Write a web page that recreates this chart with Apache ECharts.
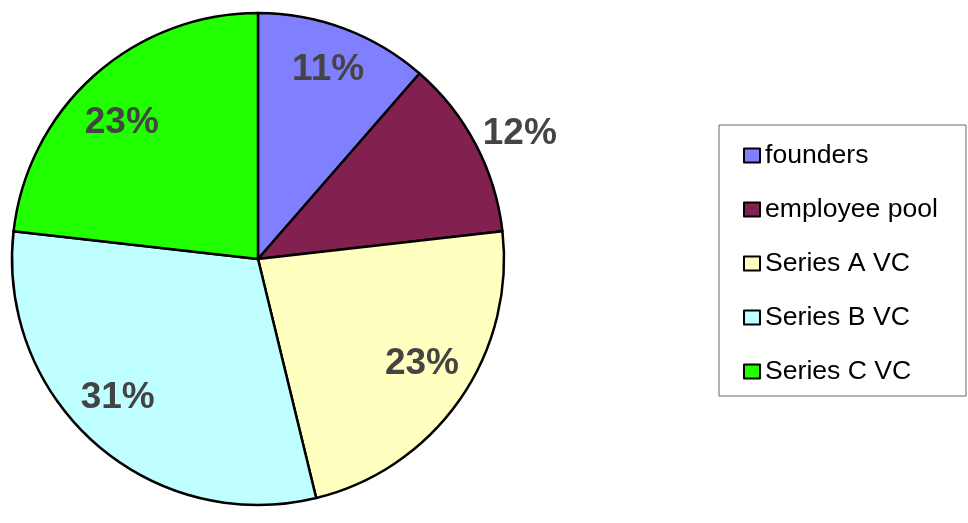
<!DOCTYPE html>
<html>
<head>
<meta charset="utf-8">
<script src="https://cdn.jsdelivr.net/npm/echarts@6/dist/echarts.min.js"></script>
<style>
html,body{margin:0;padding:0;background:#fff;}
#chart{width:968px;height:523px;}
</style>
</head>
<body>
<div id="chart"></div>
<script>
var categories = ['founders', 'employee pool', 'Series A VC', 'Series B VC', 'Series C VC'];
var values = [11.4, 11.8, 23.0, 30.6, 23.2];

// styling (not data)
var colors = ['#8080FF', '#822050', '#FFFFC0', '#C0FFFF', '#22FF00'];
var outsideLabels = ['employee pool'];
var labelNudge = {            // [dx, dy] in px, applied through rich-text spacers
  'founders': [0, -2],
  'employee pool': [0, -11],
  'Series A VC': [0, -10],
  'Series B VC': [-8, -11],
  'Series C VC': [-3, 13]
};

var fontFam = '"Liberation Sans", Arial, sans-serif';

function makeLabel(name, outside) {
  var n = labelNudge[name] || [0, 0];
  var dx = n[0], dy = n[1];
  var rich = {
    p: { fontSize: 37, fontWeight: 'bold', color: '#444', fontFamily: fontFam, lineHeight: 40 },
    s: { fontSize: 1, height: Math.max(1, Math.abs(dy) * 2), lineHeight: Math.max(1, Math.abs(dy) * 2), width: 1 },
    w: { fontSize: 1, width: Math.max(1, Math.abs(dx) * 2) }
  };
  return {
    show: true,
    position: outside ? 'outside' : 'inside',
    distanceToLabelLine: 7,
    rich: rich,
    formatter: function (p) {
      var t = '{p|' + Math.round(p.percent) + '%}';
      if (!outside) {
        if (dx < 0) t = t + '{w| }';
        else if (dx > 0) t = '{w| }' + t;
      }
      if (dy < 0) t = t + '\n{s| }';
      else if (dy > 0) t = '{s| }\n' + t;
      return t;
    }
  };
}

var mainData = categories.map(function (c, i) {
  var d = { name: c, value: values[i], itemStyle: { color: colors[i] } };
  if (outsideLabels.indexOf(c) >= 0) {
    d.label = makeLabel(c, true);
    d.labelLine = { show: false, length: 0, length2: 0 };
  }
  return d;
});
var overlayData = categories.map(function (c, i) {
  var d = { name: c, value: values[i] };
  d.label = outsideLabels.indexOf(c) < 0 ? makeLabel(c, false) : { show: false };
  return d;
});

var chart = echarts.init(document.getElementById('chart'), null, { renderer: 'canvas' });
chart.setOption({
  animation: false,
  backgroundColor: '#fff',
  legend: {
    orient: 'vertical',
    left: 719, top: 125,
    padding: [17, 28, 11, 24],
    borderColor: '#666', borderWidth: 1,
    itemWidth: 16, itemHeight: 14, itemGap: 27,
    icon: 'rect',
    itemStyle: { borderColor: '#000', borderWidth: 2 },
    textStyle: { fontSize: 26.6, color: '#000', fontFamily: fontFam },
    data: categories,
    selectedMode: false
  },
  series: [
    {
      type: 'pie',
      center: [258, 259],
      radius: [0, 246],
      startAngle: 90,
      clockwise: true,
      avoidLabelOverlap: false,
      silent: true,
      itemStyle: { borderColor: '#000', borderWidth: 2.5 },
      label: { show: false },
      labelLine: { show: false },
      emphasis: { disabled: true },
      data: mainData
    },
    {
      type: 'pie',
      center: [258, 259],
      radius: [152, 242],
      startAngle: 90,
      clockwise: true,
      avoidLabelOverlap: false,
      silent: true,
      itemStyle: { color: 'rgba(0,0,0,0)', borderWidth: 0 },
      labelLine: { show: false },
      emphasis: { disabled: true },
      data: overlayData
    }
  ]
});
</script>
</body>
</html>
